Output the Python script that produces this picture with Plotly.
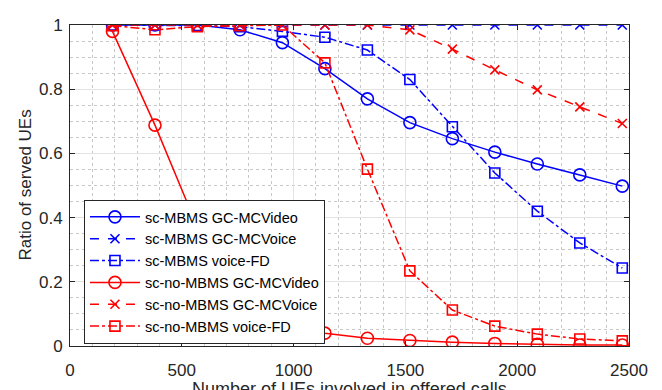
import plotly.graph_objects as go

x_ues = [190, 380, 570, 760, 950, 1140, 1330, 1520, 1710, 1900, 2090, 2280, 2470]

mbms_video = [1.0, 1.0, 1.0, 0.985, 0.945, 0.864, 0.77, 0.696, 0.646, 0.604, 0.567, 0.533, 0.498]
mbms_voice = [1.0] * 13
mbms_fd = [1.0, 1.0, 0.998, 0.995, 0.98, 0.962, 0.922, 0.83, 0.683, 0.539, 0.42, 0.321, 0.243]
nombms_video = [0.98, 0.688, 0.37, 0.17, 0.08, 0.04, 0.024, 0.017, 0.012, 0.008, 0.005, 0.003, 0.003]
nombms_voice = [1.0, 1.0, 1.0, 1.0, 1.0, 1.0, 1.0, 0.985, 0.925, 0.86, 0.798, 0.745, 0.693]
nombms_fd = [0.998, 0.985, 0.995, 0.998, 1.0, 0.882, 0.551, 0.234, 0.112, 0.062, 0.037, 0.022, 0.016]

x_ticks = [0, 500, 1000, 1500, 2000, 2500]
y_ticks = [0, 0.2, 0.4, 0.6, 0.8, 1]
y_ticktext = ["0", "0.2", "0.4", "0.6", "0.8", "1"]

x_title = "Number of UEs involved in offered calls"
y_title = "Ratio of served UEs"

names = ["sc-MBMS GC-MCVideo", "sc-MBMS GC-MCVoice", "sc-MBMS voice-FD",
         "sc-no-MBMS GC-MCVideo", "sc-no-MBMS GC-MCVoice", "sc-no-MBMS voice-FD"]
series = [mbms_video, mbms_voice, mbms_fd, nombms_video, nombms_voice, nombms_fd]
colors = ["#0000ff", "#0000ff", "#0000ff", "#ff0000", "#ff0000", "#ff0000"]
dashes = ["solid", "dash", "dashdot", "solid", "dash", "dashdot"]
symbols = ["circle-open", "x-thin-open", "square-open", "circle-open", "x-thin-open", "square-open"]
sizes = [12, 9, 10, 12, 9, 10]

FONT = "Liberation Sans, Arial, sans-serif"
AX = "#262626"

fig = go.Figure()
for n, s, c, d, sym, sz in zip(names, series, colors, dashes, symbols, sizes):
    fig.add_trace(go.Scatter(
        x=x_ues, y=s, name=n, mode="lines+markers",
        line=dict(color=c, width=1.5, dash=d),
        marker=dict(symbol=sym, size=sz, color=c, line=dict(color=c, width=1.6)),
    ))

axis_common = dict(
    showline=True, linecolor=AX, linewidth=1, mirror="ticks",
    ticks="inside", ticklen=5, tickcolor=AX,
    showgrid=True, gridcolor="#e3e3e3", gridwidth=1,
    zeroline=False, automargin=False,
    tickfont=dict(family=FONT, size=17, color=AX),
)

fig.update_xaxes(
    range=[0, 2500], tickvals=x_ticks,
    ticklabelstandoff=9,
    minor=dict(dtick=100, showgrid=True, gridcolor="#c8c8c8", griddash="dot", ticks=""),
    **axis_common,
)
fig.update_yaxes(
    range=[0, 1], tickvals=y_ticks, ticktext=y_ticktext,
    ticklabelstandoff=3,
    minor=dict(dtick=0.05, showgrid=True, gridcolor="#c8c8c8", griddash="dot", ticks=""),
    **axis_common,
)

fig.add_annotation(
    text=x_title, xref="paper", yref="paper", x=0.5, y=-0.134,
    xanchor="center", yanchor="middle", showarrow=False,
    font=dict(family=FONT, size=18, color=AX),
)
fig.add_annotation(
    text=y_title, xref="paper", yref="paper", x=-0.0805, y=0.5,
    xanchor="center", yanchor="middle", showarrow=False, textangle=-90,
    font=dict(family=FONT, size=17, color=AX),
)

fig.update_layout(
    width=662, height=390,
    margin=dict(l=70, r=33, t=25, b=44, autoexpand=False),
    plot_bgcolor="white", paper_bgcolor="white",
    font=dict(family=FONT, size=15, color="#000000"),
    legend=dict(
        x=0.025, y=0.455, xanchor="left", yanchor="top",
        bgcolor="white", bordercolor=AX, borderwidth=1,
        font=dict(size=14.5, color="#000000"),
        itemwidth=50, tracegroupgap=0,
    ),
)

fig.write_html("out.html")
